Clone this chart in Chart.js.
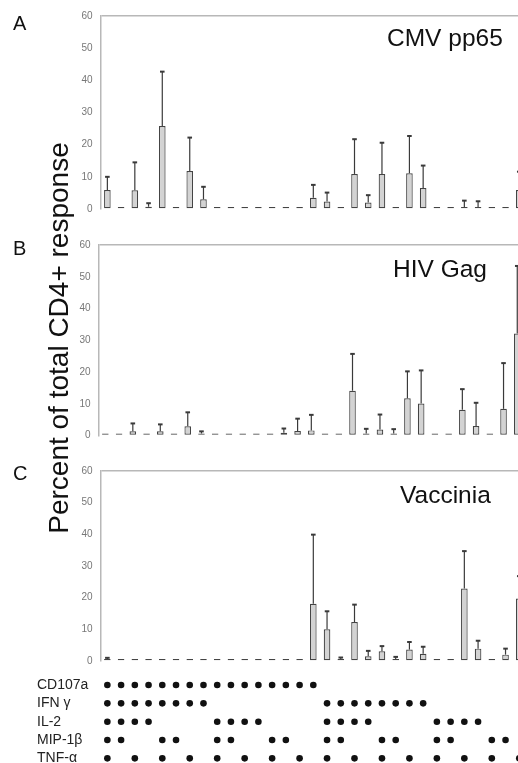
<!DOCTYPE html>
<html>
<head>
<meta charset="utf-8">
<script src="https://cdn.jsdelivr.net/npm/chart.js@4.4.0/dist/chart.umd.min.js"></script>
<style>
  body { margin: 0; width: 518px; height: 763px; overflow: hidden; background: #fff; position: relative; font-family: "Liberation Sans", Arial, sans-serif; color: #111; }
  canvas { position: absolute; left: 0; }
  .letter { position: absolute; left: 13px; font-size: 20px; line-height: 1; }
  .antigen { position: absolute; font-size: 24.5px; line-height: 1; white-space: nowrap; }
  #yTitle { position: absolute; left: -151.5px; top: 324px; width: 420px; height: 28px; line-height: 28px; font-size: 28px; text-align: center; transform: rotate(-90deg); white-space: nowrap; }
</style>
</head>
<body>
<canvas id="chartA" width="540" height="224" style="top:0px"></canvas>
<canvas id="chartB" width="540" height="221" style="top:230px"></canvas>
<canvas id="chartC" width="540" height="220" style="top:456px"></canvas>
<canvas id="chartDots" width="540" height="125" style="top:660px"></canvas>

<div class="letter" style="top:13px">A</div>
<div class="letter" style="top:238px">B</div>
<div class="letter" style="top:463px">C</div>
<div class="antigen" style="left:387px; top:26px">CMV pp65</div>
<div class="antigen" style="left:393px; top:256.5px">HIV Gag</div>
<div class="antigen" style="left:400px; top:482.5px">Vaccinia</div>
<div id="yTitle">Percent of total CD4+ response</div>

<script>
// functional combinations, one column each (CD107a, IFNγ, IL-2, MIP-1β, TNF-α)
const combos = [
  '11111', '11110', '11101', '11100', '11011', '11010', '11001', '11000',
  '10111', '10110', '10101', '10100', '10011', '10010', '10001', '10000',
  '01111', '01110', '01101', '01100', '01011', '01010', '01001', '01000',
  '00111', '00110', '00101', '00100', '00011', '00010', '00001'
];
const markers = ['CD107a', 'IFN γ', 'IL-2', 'MIP-1β', 'TNF-α'];
const yTicks = [0, 10, 20, 30, 40, 50, 60];

// mean percent and top of the error bar (null = no bar drawn)
const cmvValues = [5.9, 0, 5.8, 0.7, 25.8, 0, 11.8, 3.0, 0, 0.4, 0, 0, 0, 0, 0.6, 3.5,
  2.3, 0, 10.9, 2.0, 10.9, 0.5, 11.1, 6.5, 0, 0, 0.6, 0.6, 0, 0, 5.9];
const cmvUpper = [10.0, null, 14.5, 1.8, 42.7, null, 22.2, 6.9, null, null, null, null, null, null, null, 7.5,
  5.1, null, 21.7, 4.3, 20.6, null, 22.7, 13.5, null, null, 2.6, 2.4, null, null, 11.6];

const hivValues = [0, 0, 1.35, 0, 1.35, 0, 2.9, 0.5, 0, 0, 0, 0, 0, 0.9, 1.4, 1.6,
  0.4, 0, 14.1, 0.5, 1.9, 0.6, 11.7, 10.1, 0, 0, 8.1, 3.0, 0, 8.4, 32.1];
const hivUpper = [null, null, 3.8, null, 3.5, null, 7.3, 1.3, null, null, null, null, null, 2.2, 5.3, 6.5,
  null, null, 25.7, 2.1, 6.6, 2.0, 20.2, 20.5, null, null, 14.6, 10.3, null, 22.8, 53.4];

const vacValues = [0.5, 0, 0.3, 0, 0.4, 0.2, 0, 0, 0, 0, 0, 0.5, 0, 0, 0, 18.1,
  10.0, 0.6, 12.3, 1.5, 3.1, 0.5, 3.6, 2.3, 0.2, 0, 22.9, 3.9, 0.6, 2.0, 19.7];
const vacUpper = [1.0, null, null, null, null, null, null, null, null, null, null, null, null, null, null, 39.9,
  15.7, 1.1, 17.8, 3.2, 4.7, 1.3, 6.0, 4.5, null, null, 34.7, 6.4, null, 3.9, 26.8];

Chart.defaults.font.family = '"Liberation Sans", Arial, sans-serif';
Chart.defaults.animation = false;
Chart.defaults.plugins.legend.display = false;
Chart.defaults.plugins.tooltip.enabled = false;

const colWidth = 13.73;
const nCols = combos.length;

const errorBars = {
  id: 'errorBars',
  afterDatasetsDraw(chart) {
    const upper = chart.data.datasets[0].upper;
    const yScale = chart.scales.y;
    const ctx = chart.ctx;
    ctx.save();
    ctx.strokeStyle = '#3a3a3a';
    chart.getDatasetMeta(0).data.forEach((bar, i) => {
      if (upper[i] == null) {
        return;
      }
      const yTop = yScale.getPixelForValue(upper[i]);
      ctx.lineWidth = 1.2;
      ctx.beginPath();
      ctx.moveTo(bar.x, bar.y);
      ctx.lineTo(bar.x, yTop);
      ctx.stroke();
      ctx.lineWidth = 2;
      ctx.beginPath();
      ctx.moveTo(bar.x - 2.3, yTop);
      ctx.lineTo(bar.x + 2.3, yTop);
      ctx.stroke();
    });
    ctx.restore();
  }
};

function drawPanel(id, values, upper, left, padTop, padBottom) {
  const ctx = document.getElementById(id).getContext('2d');
  const right = ctx.canvas.width - (left + nCols * colWidth);
  return new Chart(ctx, {
    type: 'bar',
    data: {
      labels: combos,
      datasets: [{
        data: values,
        upper: upper,
        backgroundColor: '#d3d3d3',
        borderColor: '#444',
        borderWidth: 1.2,
        borderSkipped: false,
        minBarLength: 2,
        barPercentage: 0.48,
        categoryPercentage: 1,
      }]
    },
    options: {
      responsive: false,
      devicePixelRatio: 1,
      layout: { padding: { left: 0, top: padTop, right: right, bottom: padBottom } },
      scales: {
        x: { display: false, offset: true },
        y: {
          min: 0,
          max: 60,
          afterBuildTicks: scale => { scale.ticks = yTicks.map(v => ({ value: v })); },
          afterFit: scale => { scale.width = left; },
          ticks: { color: '#777', font: { size: 10 }, padding: 8 },
          grid: {
            drawTicks: false,
            lineWidth: 1.5,
            color: c => (c.tick && c.tick.value === 60) ? '#b8b8b8' : 'rgba(0,0,0,0)'
          },
          border: { display: true, color: '#b8b8b8', width: 1.5 }
        }
      }
    },
    plugins: [errorBars]
  });
}

function drawDots() {
  const ctx = document.getElementById('chartDots').getContext('2d');
  const left = 100.5;
  const points = [];
  combos.forEach((combo, c) => {
    markers.forEach((name, r) => {
      if (combo[r] === '1') {
        points.push({ x: combo, y: name });
      }
    });
  });
  return new Chart(ctx, {
    type: 'scatter',
    data: {
      labels: combos,
      datasets: [{
        data: points,
        pointRadius: 3.3,
        pointBackgroundColor: '#111',
        pointBorderWidth: 0,
      }]
    },
    options: {
      responsive: false,
      devicePixelRatio: 1,
      layout: { padding: { left: 37, top: 15.85, right: ctx.canvas.width - (left + nCols * colWidth), bottom: 17.5 } },
      scales: {
        x: { type: 'category', labels: combos, offset: true, display: false },
        y: {
          type: 'category',
          labels: markers,
          offset: true,
          afterFit: scale => { scale.width = left - 37; },
          grid: { display: false },
          border: { display: false },
          ticks: { crossAlign: 'far', autoSkip: false, color: '#222', font: { size: 14 }, padding: 0 }
        }
      }
    }
  });
}

drawPanel('chartA', cmvValues, cmvUpper, 100.5, 16, 15);
drawPanel('chartB', hivValues, hivUpper, 98.5, 15, 15.5);
drawPanel('chartC', vacValues, vacUpper, 100.5, 15, 15);
drawDots();
</script>
</body>
</html>
